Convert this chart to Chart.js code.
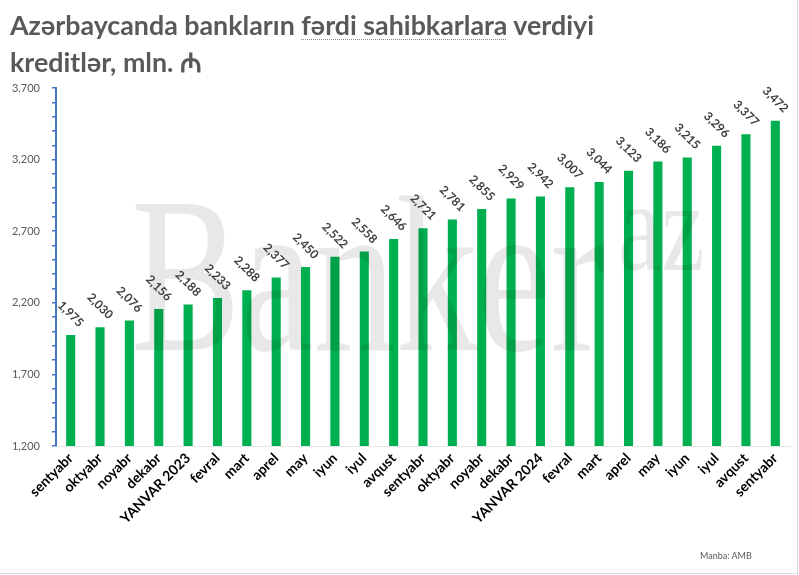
<!DOCTYPE html>
<html>
<head>
<meta charset="utf-8">
<script src="https://cdn.jsdelivr.net/npm/chart.js@4"></script>
<style>
 body{margin:0;background:#fff;}
 #wrap{position:relative;width:797px;height:573px;border:1px solid #d9d9d9;border-top:none;border-left:none;overflow:hidden;}
 #title{position:absolute;left:10px;top:7px;font-family:Lato,"Open Sans",sans-serif;font-weight:bold;font-size:26.8px;line-height:37px;color:#595959;}
 #title .sp{text-decoration:underline dotted #8a8a8a;text-underline-offset:4px;text-decoration-thickness:1px;}
 #src{position:absolute;left:700px;top:550px;font-family:Lato,"Open Sans",sans-serif;font-size:9px;color:#595959;}
 canvas{position:absolute;left:0;top:0;}
</style>
</head>
<body>
<div id="wrap">
 <canvas id="c" width="799" height="575"></canvas>
 <div id="title">Azərbaycanda bankların <span class="sp">fərdi sahibkarlara</span> verdiyi<br>kreditlər, mln. ₼</div>
 <div id="src">Manba: AMB</div>
</div>
<script>
// months (Sep 2022 - Sep 2024)
const months = ["sentyabr","oktyabr","noyabr","dekabr","YANVAR 2023","fevral","mart","aprel","may","iyun","iyul","avqust",
 "sentyabr","oktyabr","noyabr","dekabr","YANVAR 2024","fevral","mart","aprel","may","iyun","iyul","avqust","sentyabr"];
// loans to individual entrepreneurs, mln. AZN
const loans = [1975,2030,2076,2156,2188,2233,2288,2377,2450,2522,2558,2646,
 2721,2781,2855,2929,2942,3007,3044,3123,3186,3215,3296,3377,3472];
const yMin = 1200, yMax = 3700;
const yLabelStep = 500;

// watermark + rotated value labels
const labelsPlugin = {
 id: "labels",
 afterDatasetsDraw(chart){
  const ctx = chart.ctx;
  // faint Banker.az watermark over the bars
  ctx.save();
  ctx.fillStyle = "rgba(0,0,0,0.09)";
  ctx.translate(131, 350);
  ctx.scale(0.74, 1);
  ctx.font = '222px "Liberation Serif", serif';
  ctx.textBaseline = "alphabetic";
  ctx.fillText("Banker", 0, 0);
  ctx.restore();
  ctx.save();
  ctx.fillStyle = "rgba(0,0,0,0.09)";
  ctx.translate(618, 270);
  ctx.scale(0.75, 1);
  ctx.font = '130px "Liberation Serif", serif';
  ctx.fillText("az", 0, 0);
  ctx.restore();

  const meta = chart.getDatasetMeta(0);
  ctx.save();
  ctx.font = 'bold 12px Lato, "Open Sans", sans-serif';
  ctx.fillStyle = "#404040";
  ctx.textAlign = "center";
  ctx.textBaseline = "middle";
  meta.data.forEach((bar, i) => {
   ctx.save();
   ctx.translate(bar.x, bar.y - 21);
   ctx.rotate(Math.PI / 4);
   ctx.fillText(loans[i].toLocaleString("en-US"), 0, 0);
   ctx.restore();
  });
  ctx.restore();
 }
};

new Chart(document.getElementById("c"), {
 type: "bar",
 data: {
  labels: months,
  datasets: [{
   data: loans,
   backgroundColor: "#00B050",
   borderWidth: 0,
   barPercentage: 0.31,
   categoryPercentage: 1
  }]
 },
 options: {
  responsive: false,
  animation: false,
  layout: { padding: { left: 10, right: 9, top: 88, bottom: 0 } },
  plugins: { legend: { display: false }, tooltip: { enabled: false } },
  scales: {
   x: {
    grid: { display: false, drawTicks: false },
    border: { display: true, color: "#e6e6e6", width: 1 },
    ticks: {
     autoSkip: false, maxRotation: 45, minRotation: 45,
     padding: 4,
     color: "#000",
     font: { family: 'Lato, "Open Sans", sans-serif', size: 14, weight: "bold" }
    },
    afterFit(s){ s.height = 129; }
   },
   y: {
    min: yMin, max: yMax,
    grid: { drawOnChartArea: false, drawTicks: true, tickLength: 4, color: "#4472C4", lineWidth: 1.5 },
    border: { display: true, color: "#4472C4", width: 2 },
    ticks: {
     stepSize: 100,
     autoSkip: false,
     padding: 12,
     color: "#595959",
     font: { family: 'Lato, "Open Sans", sans-serif', size: 11 },
     callback: v => ((v - yMin) % yLabelStep === 0 ? v.toLocaleString("en-US") : "")
    },
    afterFit(s){ s.width = 46; }
   }
  }
 },
 plugins: [labelsPlugin]
});
</script>
</body>
</html>
